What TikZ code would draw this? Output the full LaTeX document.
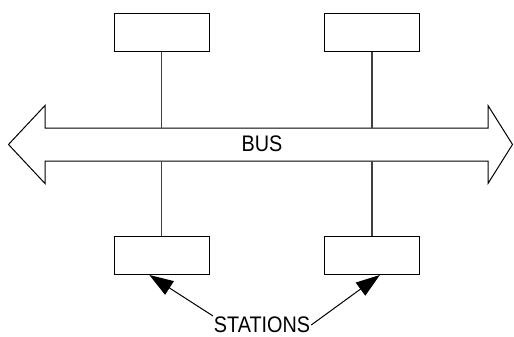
\documentclass[tikz,border=0pt]{standalone}
\usepackage{fontspec}
\setmainfont{Liberation Sans}
\newfontfamily\narrowfont[FakeStretch=0.88]{Liberation Sans}
\usetikzlibrary{arrows.meta}

\begin{document}
\begin{tikzpicture}[x=1pt, y=-1pt, >={Triangle[length=24pt, width=16pt]},
    station/.style={draw, line width=1pt, minimum width=95pt, minimum height=38pt, inner sep=0pt},
    stem/.style={black!75, line width=1.2pt},
    lbl/.style={font=\narrowfont\fontsize{22.5}{26}\selectfont, inner sep=1pt}]
\useasboundingbox (0,0) rectangle (514,337);
\coordinate (top) at (0,128);
\coordinate (bot) at (0,161);
% the bus, a double-headed arrow
\draw[line width=1pt, line join=miter]
    (45,128) -- (488,128) -- (488,105.5) -- (512.5,144.5) -- (488,183.5) -- (488,161)
    -- (45,161) -- (45,183.5) -- (8.5,144.5) -- (45,105.5) -- cycle;
\node[lbl] (bus) at (262,144) {BUS};
% stations
\node[station] (s1) at (161.5,33) {};
\node[station] (s2) at (372,33) {};
\node[station] (s3) at (161.5,255.5) {};
\node[station] (s4) at (372,255.5) {};
\foreach \s in {s1,s2}{
    \draw[stem] (\s.south) -- (\s.south |- top);
}
\foreach \s in {s3,s4}{
    \draw[stem] (\s.north) -- (\s.north |- bot);
}
\node[lbl] (st) at (262,325) {STATIONS};
\draw[->, line width=1pt] (st.north west) -- (s3.-122);
\draw[->, line width=1pt] (st.east) -- (s4.-68);
\end{tikzpicture}
\end{document}
